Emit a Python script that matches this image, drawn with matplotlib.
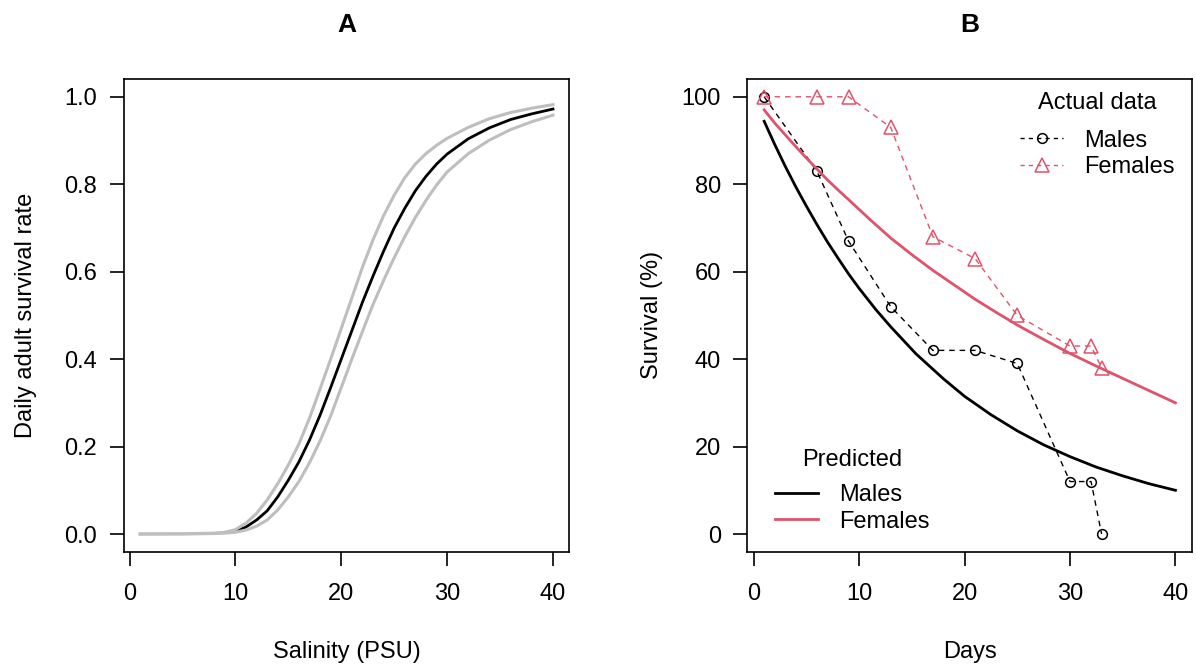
import matplotlib
matplotlib.use("Agg")
import matplotlib.pyplot as plt
from matplotlib.lines import Line2D

plt.rcParams["font.family"] = ["Liberation Sans", "DejaVu Sans"]

# ---- panel A: daily adult survival vs salinity
sal_mid = [10, 11, 12, 13, 14, 15, 16, 17, 18, 19, 20, 21, 22, 23, 24, 25,
           26, 27, 28, 29, 30, 32, 34, 36, 38, 40]
surv_mid = [0.006, 0.016, 0.032, 0.053, 0.085, 0.123, 0.165, 0.215, 0.272,
            0.335, 0.40, 0.465, 0.53, 0.59, 0.647, 0.70, 0.745, 0.785, 0.818,
            0.846, 0.869, 0.904, 0.929, 0.948, 0.961, 0.972]

sal_band = [1, 5, 8, 9, 10, 11, 12, 13, 14, 15, 16, 17, 18, 19, 20, 21, 22,
            23, 24, 25, 26, 27, 28, 29, 30, 32, 34, 36, 38, 40]
surv_upper = [0.0, 0.0005, 0.002, 0.004, 0.01, 0.025, 0.047, 0.078, 0.115,
              0.158, 0.206, 0.265, 0.332, 0.40, 0.47, 0.54, 0.61, 0.673,
              0.728, 0.775, 0.815, 0.846, 0.87, 0.889, 0.905, 0.93, 0.95,
              0.964, 0.974, 0.982]
surv_lower = [0.0, 0.0002, 0.001, 0.002, 0.004, 0.009, 0.018, 0.032, 0.055,
              0.085, 0.12, 0.163, 0.213, 0.27, 0.335, 0.40, 0.463, 0.525,
              0.58, 0.632, 0.68, 0.724, 0.763, 0.798, 0.828, 0.87, 0.901,
              0.925, 0.943, 0.958]

# ---- panel B: survival over days
days_obs = [1, 6, 9, 13, 17, 21, 25, 30, 32, 33]
males_obs = [100, 83, 67, 52, 42, 42, 39, 12, 12, 0]
females_obs = [100, 100, 100, 93, 68, 63, 50, 43, 43, 38]

days_pred_m = [1, 2, 3, 4, 5, 6, 7, 8, 9, 10, 11.6, 13, 15.4, 18, 20, 22.5,
               25, 27.5, 30, 32.5, 35, 37.5, 40]
males_pred = [94.4, 89.1, 84.1, 79.4, 75, 70.8, 66.8, 63.1, 59.5, 56.2, 51.3,
              47.4, 41.2, 35.5, 31.5, 27.3, 23.6, 20.4, 17.7, 15.3, 13.3,
              11.5, 10]
days_pred_f = [1, 2, 3, 4, 5, 6, 7, 8, 9, 11, 13, 15, 17, 19, 21, 23, 25,
               27.5, 30, 32.5, 35, 37.5, 40]
females_pred = [97, 94, 91.3, 88.6, 86, 83.5, 81, 78.7, 76.5, 72, 67.7, 63.9,
                60.3, 57, 53.7, 50.7, 47.8, 44.5, 41.3, 38.4, 35.6, 32.8, 30]

red = "#DF536B"
grey = "#BEBEBE"
fs = 17

fig = plt.figure(figsize=(11.96, 6.69), dpi=100)
W, H = 1196, 669
axA = fig.add_axes([123.6 / W, 1 - 551.5 / H, (569.5 - 123.6) / W, (551.5 - 79.3) / H])
axB = fig.add_axes([747.3 / W, 1 - 551.5 / H, (1192.3 - 747.3) / W, (551.5 - 79.3) / H])

axA.plot(sal_mid, surv_mid, c="black", lw=2.0, zorder=2)
axA.plot(sal_band, surv_upper, c=grey, lw=2.2, zorder=3)
axA.plot(sal_band, surv_lower, c=grey, lw=2.2, zorder=3)
axA.set_xlim(-0.56, 41.56)
axA.set_ylim(-0.04, 1.04)
axA.set_xticks([0, 10, 20, 30, 40])
axA.set_yticks([0.0, 0.2, 0.4, 0.6, 0.8, 1.0])
axA.set_yticklabels(["0.0", "0.2", "0.4", "0.6", "0.8", "1.0"])
axA.set_xlabel("Salinity (PSU)", fontsize=fs)
axA.set_ylabel("Daily adult survival rate", fontsize=fs)
axA.set_title("A", fontsize=19, fontweight="bold", pad=34)

dash = (4, 3.5)
axB.plot(days_obs, males_obs, c="black", lw=1.0, ls="--", dashes=dash,
         marker="o", ms=7, mfc="none", mec="black", mew=1.1)
axB.plot(days_obs, females_obs, c=red, lw=1.0, ls="--", dashes=dash,
         marker="^", ms=9.5, mfc="none", mec=red, mew=1.1)
axB.plot(days_pred_m, males_pred, c="black", lw=2.0)
axB.plot(days_pred_f, females_pred, c=red, lw=2.0)
axB.set_xlim(-0.6, 41.6)
axB.set_ylim(-4, 104)
axB.set_xticks([0, 10, 20, 30, 40])
axB.set_yticks([0, 20, 40, 60, 80, 100])
axB.set_xlabel("Days", fontsize=fs)
axB.set_ylabel("Survival (%)", fontsize=fs)
axB.set_title("B", fontsize=19, fontweight="bold", pad=34)

h_act = [Line2D([], [], c="black", lw=1.0, ls="--", dashes=(3, 3), marker="o",
                ms=7, mfc="none", mec="black", mew=1.1),
         Line2D([], [], c=red, lw=1.0, ls="--", dashes=(3, 3), marker="^",
                ms=9.5, mfc="none", mec=red, mew=1.1)]
leg1 = axB.legend(h_act, ["Males", "Females"], title="Actual data",
                  loc="upper right", bbox_to_anchor=(1.0, 1.01), frameon=False,
                  fontsize=fs, title_fontsize=fs, handlelength=1.8,
                  handletextpad=0.9, labelspacing=0.2, borderpad=0.25)
leg1._legend_box.sep = 11  # extra gap under legend title, as in the original
axB.add_artist(leg1)
h_pred = [Line2D([], [], c="black", lw=2.0), Line2D([], [], c=red, lw=2.0)]
leg2 = axB.legend(h_pred, ["Males", "Females"], title="Predicted",
                  loc="lower left", bbox_to_anchor=(0.02, 0.0), frameon=False,
                  fontsize=fs, title_fontsize=fs, handlelength=1.8,
                  handletextpad=0.9, labelspacing=0.2, borderpad=0.3)
leg2._legend_box.sep = 9

for ax in (axA, axB):
    for s in ax.spines.values():
        s.set_linewidth(1.2)
    ax.tick_params(axis="both", labelsize=fs, length=10, width=1.2)
    ax.tick_params(axis="x", pad=13)
    ax.tick_params(axis="y", pad=9)
    ax.xaxis.set_label_coords(0.5, -0.213)
    ax.xaxis.label.set_va("center")
    ax.yaxis.label.set_va("center")
axA.yaxis.set_label_coords(-0.22, 0.5)
axB.yaxis.set_label_coords(-0.214, 0.5)

fig.savefig("out.png", dpi=100)
